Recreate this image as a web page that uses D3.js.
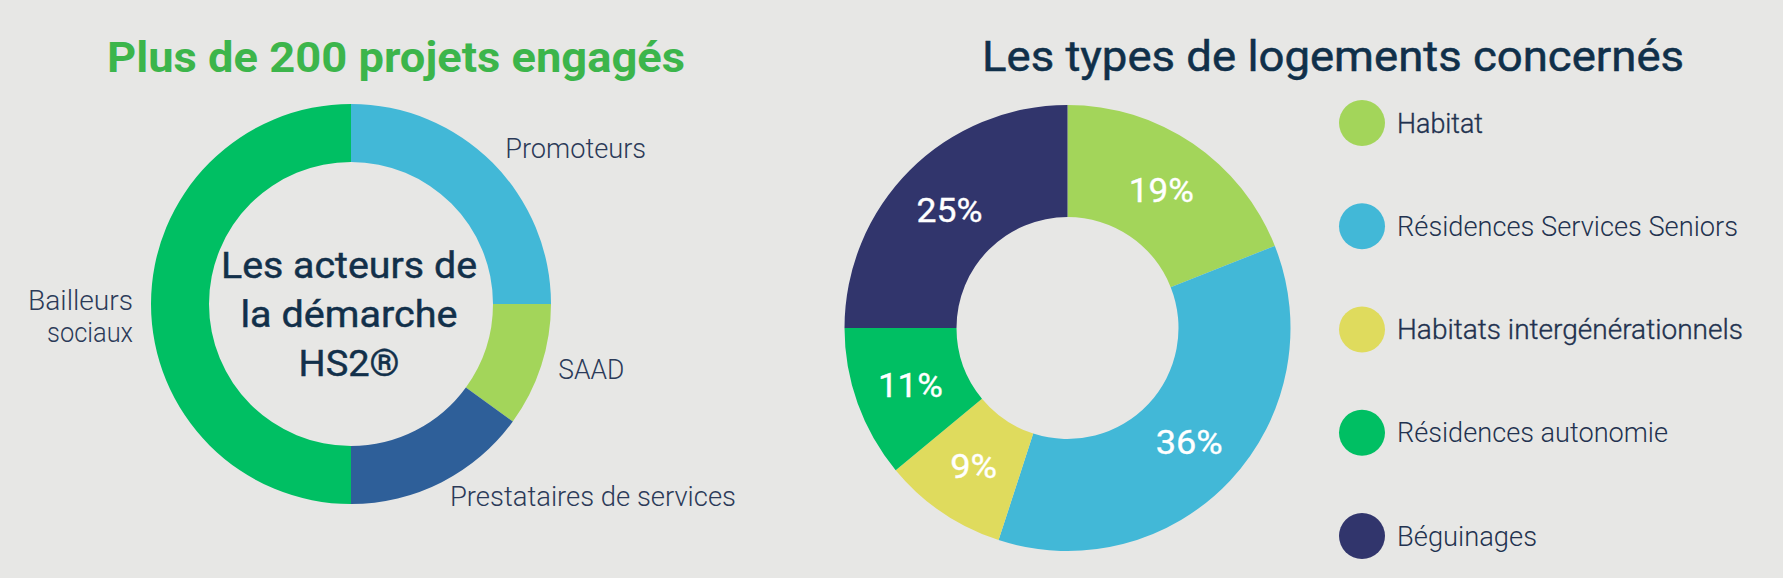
<!DOCTYPE html>
<html>
<head>
<meta charset="utf-8">
<script src="https://cdn.jsdelivr.net/npm/d3@7"></script>
<style>
  html, body { margin: 0; padding: 0; background: #e7e7e5; }
  svg { display: block; }
  text { font-family: Roboto, "Open Sans", "DejaVu Sans", sans-serif; }
</style>
</head>
<body>
<svg id="chart" width="1783" height="578"></svg>
<script>
// ---------- DATA ----------
const leftTitle = "Plus de 200 projets engagés";
const leftCenterLines = ["Les acteurs de", "la démarche", "HS2®"];
const actorCategories = ["Promoteurs", "SAAD", "Prestataires de services", "Bailleurs sociaux"];
const actorLabelLines = [["Promoteurs"], ["SAAD"], ["Prestataires de services"], ["Bailleurs", "sociaux"]];
const actorValues = [25, 10, 15, 50];
const actorColors = ["#42b8d7", "#a3d55a", "#2e5f99", "#00bf63"];

const rightTitle = "Les types de logements concernés";
const housingCategories = ["Habitat", "Résidences Services Seniors", "Habitats intergénérationnels", "Résidences autonomie", "Béguinages"];
const housingValues = [19, 36, 9, 11, 25];
const housingColors = ["#a3d55a", "#42b8d7", "#dfdb5d", "#00bf63", "#31356c"];
const housingLegendStroke = [0.35, 0, 0.35, 0, 0];

// ---------- SETUP ----------
const svg = d3.select("#chart");
const W = 1783, H = 578;
svg.append("rect").attr("width", W).attr("height", H).attr("fill", "#e7e7e5");

// helper: fit text to a target width (the original uses a narrow DIN face)
function fit(sel, width) {
  sel.attr("textLength", width).attr("lengthAdjust", "spacingAndGlyphs");
}

// ---------- LEFT DONUT ----------
const L = { cx: 351, cy: 304, R: 200, r: 142 };
const gL = svg.append("g").attr("transform", `translate(${L.cx},${L.cy})`);
const pieL = d3.pie().sort(null).value(d => d)(actorValues);
const arcL = d3.arc().innerRadius(L.r).outerRadius(L.R);
gL.selectAll("path.seg").data(pieL).join("path")
  .attr("class", "seg")
  .attr("d", arcL)
  .attr("fill", (d, i) => actorColors[i]);

// outside labels
const labelArcL = d3.arc().innerRadius(L.R + 18).outerRadius(L.R + 18);
const actorLabelWidths = { "Promoteurs": 141, "SAAD": 66, "Prestataires de services": 286, "Bailleurs": 105, "sociaux": 86 };
pieL.forEach((d, i) => {
  const [x, y] = labelArcL.centroid(d);
  const mid = (d.startAngle + d.endAngle) / 2;
  const right = Math.sin(mid) >= 0;
  const lines = actorLabelLines[i];
  const n = lines.length;
  lines.forEach((ln, j) => {
    const t = gL.append("text")
      .attr("x", x)
      .attr("y", y + 8 + (n > 1 ? 14 : 0) + (j - (n - 1) / 2) * 32)
      .attr("text-anchor", right ? "start" : "end")
      .attr("font-size", 27)
      .attr("font-weight", 300)
      .attr("fill", "#2b3a58")
      .text(ln);
    fit(t, actorLabelWidths[ln]);
  });
});

// center text
const centerWidths = [256, 217, 101];
leftCenterLines.forEach((ln, j) => {
  const t = gL.append("text")
    .attr("x", -2)
    .attr("y", -26 + j * 49)
    .attr("text-anchor", "middle")
    .attr("font-size", 36)
    .attr("font-weight", 400)
    .attr("fill", "#12304a")
    .attr("stroke", "#12304a")
    .attr("stroke-width", 0.45)
    .text(ln);
  fit(t, centerWidths[j]);
});

// left title
fit(svg.append("text")
  .attr("x", 396).attr("y", 72)
  .attr("text-anchor", "middle")
  .attr("font-size", 42)
  .attr("font-weight", 700)
  .attr("fill", "#3cb54b")
  .text(leftTitle), 578);

// ---------- RIGHT DONUT ----------
const Rg = { cx: 1067.5, cy: 328, R: 223, r: 111 };
const gR = svg.append("g").attr("transform", `translate(${Rg.cx},${Rg.cy})`);
const pieR = d3.pie().sort(null).value(d => d)(housingValues);
const arcR = d3.arc().innerRadius(Rg.r).outerRadius(Rg.R);
gR.selectAll("path.seg").data(pieR).join("path")
  .attr("class", "seg")
  .attr("d", arcR)
  .attr("fill", (d, i) => housingColors[i]);

const pctWidths = { 19: 65, 36: 67, 9: 47, 11: 65, 25: 66 };
gR.selectAll("text.pct").data(pieR).join("text")
  .attr("class", "pct")
  .attr("x", d => arcR.centroid(d)[0])
  .attr("y", d => arcR.centroid(d)[1] + 12)
  .attr("text-anchor", "middle")
  .attr("font-size", 34)
  .attr("font-weight", 400)
  .attr("fill", "#ffffff")
  .attr("stroke", "#ffffff")
  .attr("stroke-width", 0.35)
  .text(d => d.data + "%")
  .each(function(d) { fit(d3.select(this), pctWidths[d.data]); });

// right title
fit(svg.append("text")
  .attr("x", 1333).attr("y", 71)
  .attr("text-anchor", "middle")
  .attr("font-size", 42)
  .attr("font-weight", 400)
  .attr("fill", "#10304a")
  .attr("stroke", "#10304a")
  .attr("stroke-width", 0.5)
  .text(rightTitle), 702);

// legend
const legendY = d3.scalePoint().domain(housingCategories).range([123, 536]);
const legendWidths = [86, 341, 346, 271, 140];
const lg = svg.append("g");
housingCategories.forEach((c, i) => {
  const y = legendY(c);
  lg.append("circle").attr("cx", 1362).attr("cy", y).attr("r", 23).attr("fill", housingColors[i]);
  const t = lg.append("text")
    .attr("x", 1397).attr("y", y + 9.5)
    .attr("font-size", 27)
    .attr("font-weight", 300)
    .attr("fill", "#22324f")
    .attr("stroke", "#22324f")
    .attr("stroke-width", housingLegendStroke[i])
    .text(c);
  fit(t, legendWidths[i]);
});
</script>
</body>
</html>
